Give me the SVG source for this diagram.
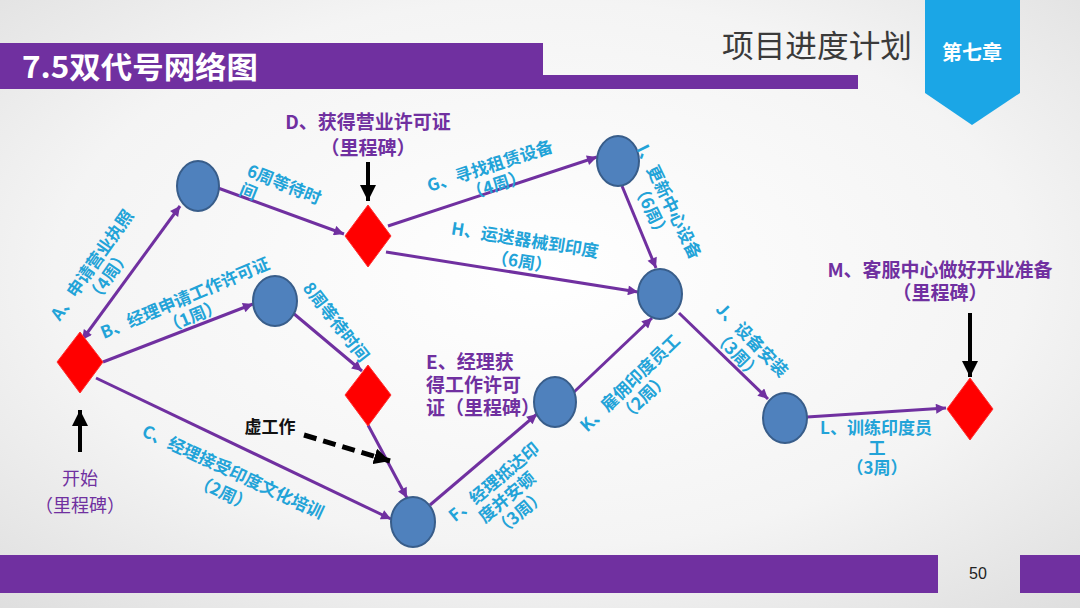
<svg xmlns="http://www.w3.org/2000/svg" width="1080" height="608" viewBox="0 0 1080 608">
<defs>
<radialGradient id="bg" cx="0.5" cy="0.45" r="0.75">
<stop offset="0" stop-color="#ffffff"/>
<stop offset="0.6" stop-color="#f4f4f4"/>
<stop offset="1" stop-color="#dedede"/>
</radialGradient>
<marker id="pa" viewBox="0 0 10 10" refX="10" refY="5" markerWidth="12" markerHeight="10" markerUnits="userSpaceOnUse" orient="auto-start-reverse">
<path d="M0,0 L10,5 L0,10 z" fill="#7030a0"/>
</marker>
<marker id="ba" viewBox="0 0 10 10" refX="10" refY="5" markerWidth="16" markerHeight="16" markerUnits="userSpaceOnUse" orient="auto">
<path d="M0,0 L10,5 L0,10 z" fill="#000"/>
</marker>
<style>
.cj{font-family:"Noto Sans CJK SC","Liberation Sans",sans-serif}
.lbl{font-family:"Noto Sans CJK SC","Liberation Sans",sans-serif;font-size:17px;font-weight:bold;fill:#22a3d8;text-anchor:middle}
.ms{font-family:"Noto Sans CJK SC","Liberation Sans",sans-serif;font-size:19px;font-weight:bold;fill:#7030a0}
.edge{stroke:#7030a0;stroke-width:3;fill:none;marker-end:url(#pa)}
.circ{fill:#4f81bd;stroke:#385d8a;stroke-width:2}
.dia{fill:#ff0000;stroke:#ff3030;stroke-width:1}
.barr{stroke:#000;stroke-width:4;fill:none;marker-end:url(#ba)}
</style>
</defs>
<rect width="1080" height="608" fill="url(#bg)"/>
<g id="header">
<rect x="0" y="43" width="543" height="46" fill="#7030a0"/>
<rect x="543" y="75" width="315" height="14" fill="#7030a0"/>
<text x="22" y="78" class="cj" font-size="30" font-weight="bold" fill="#fff" textLength="236" lengthAdjust="spacingAndGlyphs">7.5双代号网络图</text>
<text x="722" y="57" class="cj" font-size="31" fill="#3a3a3a" textLength="190" lengthAdjust="spacingAndGlyphs">项目进度计划</text>
<path d="M925,0 L1020,0 L1020,93 L972,125 L925,93 z" fill="#1ba6e6"/>
<text x="972" y="60" class="cj" font-size="20" font-weight="bold" fill="#fff" text-anchor="middle">第七章</text>
</g>
<g id="footer">
<rect x="0" y="555" width="938" height="38" fill="#7030a0"/>
<rect x="1020" y="555" width="60" height="38" fill="#7030a0"/>
<text x="978" y="579" font-family="Liberation Sans, sans-serif" font-size="16" fill="#222" text-anchor="middle">50</text>
</g>
<g id="connectors">
<line x1="82" y1="340" x2="180" y2="206" class="edge" marker-start="url(#pa)"/>
<line x1="218" y1="188" x2="344" y2="234" class="edge"/>
<line x1="103" y1="362" x2="253" y2="304" class="edge"/>
<line x1="96" y1="378" x2="391" y2="519" class="edge"/>
<line x1="293" y1="313" x2="362" y2="371" class="edge"/>
<line x1="368" y1="425" x2="407" y2="498" class="edge"/>
<line x1="430" y1="505" x2="537" y2="414" class="edge"/>
<line x1="574" y1="392" x2="652" y2="318" class="edge"/>
<line x1="388" y1="226" x2="597" y2="157" class="edge"/>
<line x1="386" y1="252" x2="638" y2="292" class="edge"/>
<line x1="622" y1="186" x2="656" y2="268" class="edge"/>
<line x1="679" y1="313" x2="768" y2="399" class="edge"/>
<line x1="807" y1="417" x2="946" y2="408" class="edge"/>
<line x1="304" y1="435" x2="390" y2="461" stroke="#000" stroke-width="5" stroke-dasharray="13,7" marker-end="url(#ba)"/>
<line x1="80" y1="452" x2="80" y2="410" class="barr"/>
<line x1="368" y1="162" x2="368" y2="201" class="barr"/>
<line x1="970" y1="313" x2="970" y2="377" class="barr"/>
</g>
<g id="n-start"><path d="M80,332 L103,362 L80,393 L57,362 z" class="dia"/></g>
<g id="n-1"><ellipse cx="198" cy="186" rx="21" ry="25" class="circ"/></g>
<g id="n-2"><ellipse cx="275" cy="301" rx="22" ry="25" class="circ"/></g>
<g id="n-D"><path d="M368,205 L391,236 L368,267 L345,236 z" class="dia"/></g>
<g id="n-E"><path d="M368,365 L391,395 L368,426 L345,395 z" class="dia"/></g>
<g id="n-F"><ellipse cx="413" cy="522" rx="22" ry="25" class="circ"/></g>
<g id="n-E2"><ellipse cx="555" cy="402" rx="21" ry="25" class="circ"/></g>
<g id="n-I"><ellipse cx="618" cy="161" rx="21" ry="25" class="circ"/></g>
<g id="n-J"><ellipse cx="660" cy="294" rx="22" ry="25" class="circ"/></g>
<g id="n-L"><ellipse cx="785" cy="418" rx="22" ry="25" class="circ"/></g>
<g id="n-M"><path d="M970,378 L993,409 L970,440 L947,409 z" class="dia"/></g>
<g id="labels">
<g transform="translate(92,265) rotate(-55)"><text class="lbl" y="6">A、申请营业执照</text><text class="lbl" y="26">（4周）</text></g>
<g transform="translate(248,170) rotate(22)"><text class="lbl" y="6" style="text-anchor:start">6周等待时</text><text class="lbl" y="26" style="text-anchor:start">间</text></g>
<g transform="translate(185,298) rotate(-23)"><text class="lbl" y="6">B、经理申请工作许可证</text><text class="lbl" y="26">（1周）</text></g>
<g transform="translate(336,322) rotate(52)"><text class="lbl" y="6">8周等待时间</text></g>
<g transform="translate(490,166) rotate(-18)"><text class="lbl" y="6">G、寻找租赁设备</text><text class="lbl" y="26">（4周）</text></g>
<g transform="translate(525,240) rotate(9)"><text class="lbl" y="6">H、运送器械到印度</text><text class="lbl" y="28">（6周）</text></g>
<g transform="translate(669,202) rotate(64)"><text class="lbl" y="6">I、更新中心设备</text><text class="lbl" y="26">（6周）</text></g>
<g transform="translate(752,340) rotate(46)"><text class="lbl" y="6">J、设备安装</text><text class="lbl" y="27">（3周）</text></g>
<g transform="translate(630,383) rotate(-44)"><text class="lbl" y="6">K、雇佣印度员工</text><text class="lbl" y="26">（2周）</text></g>
<g transform="translate(494,482) rotate(-40)"><text class="lbl" y="6">F、经理抵达印</text><text class="lbl" y="26">度并安顿</text><text class="lbl" y="46">（3周）</text></g>
<g transform="translate(233,472) rotate(25)"><text class="lbl" y="6">C、经理接受印度文化培训</text><text class="lbl" y="29">（2周）</text></g>
<text class="lbl" x="876" y="434">L、训练印度员</text>
<text class="lbl" x="877" y="454">工</text>
<text class="lbl" x="877" y="474">（3周）</text>
<text class="ms" x="368" y="129" text-anchor="middle">D、获得营业许可证</text>
<text class="ms" x="368" y="155" text-anchor="middle">（里程碑）</text>
<text class="ms" x="426" y="369">E、经理获</text>
<text class="ms" x="426" y="392">得工作许可</text>
<text class="ms" x="426" y="415">证（里程碑）</text>
<text class="ms" x="940" y="277" text-anchor="middle" font-size="20">M、客服中心做好开业准备</text>
<text class="ms" x="940" y="300" text-anchor="middle">（里程碑）</text>
<text class="cj" x="80" y="485" font-size="18" fill="#7030a0" text-anchor="middle">开始</text>
<text class="cj" x="80" y="512" font-size="18" fill="#7030a0" text-anchor="middle">（里程碑）</text>
<text class="cj" x="270" y="433" font-size="17" font-weight="bold" fill="#111" text-anchor="middle">虚工作</text>
</g>
</svg>
